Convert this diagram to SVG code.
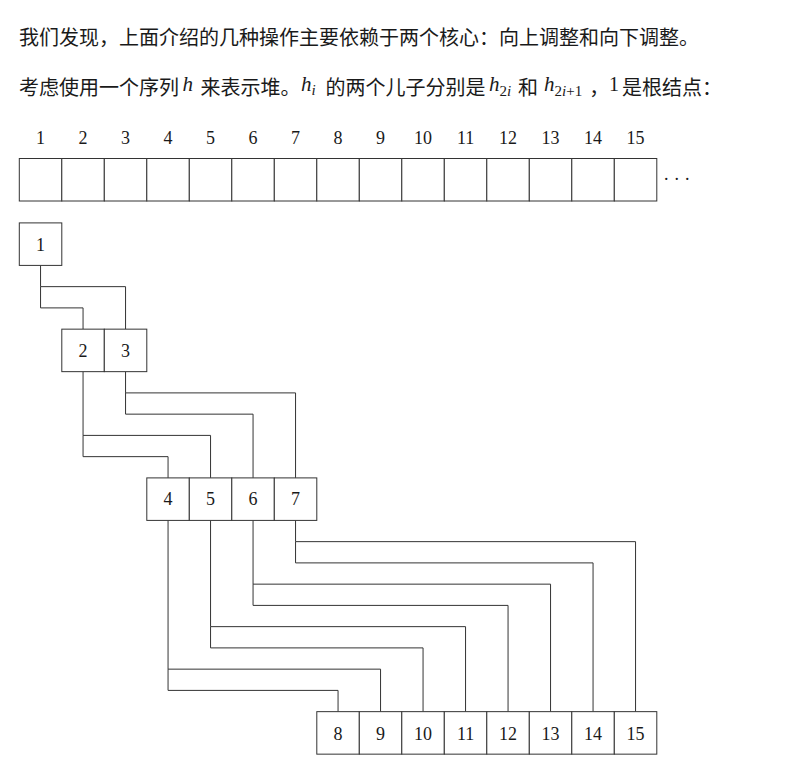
<svg xmlns="http://www.w3.org/2000/svg" width="796" height="779" viewBox="0 0 796 779">
<style>
.cjk{font-family:"Noto Sans CJK SC","Noto Sans",sans-serif;font-size:20px;fill:#1a1a1a}
.m{font-family:"Liberation Serif","DejaVu Serif",serif;font-style:italic;font-size:21px;fill:#1a1a1a}
.mn{font-family:"Liberation Serif","DejaVu Serif",serif;font-size:20px;fill:#1a1a1a}
.sub{font-size:15px}
.num{font-family:"Liberation Serif","DejaVu Serif",serif;font-size:18px;fill:#1a1a1a;text-anchor:middle}
.cell{fill:#fff;stroke:#333;stroke-width:1}
.wire{fill:none;stroke:#333;stroke-width:1}
</style>
<rect width="796" height="779" fill="#fff"/>
<g id="text">
<text class="cjk" x="19" y="44.5">我们发现，上面介绍的几种操作主要依赖于两个核心：向上调整和向下调整。</text>
<text class="cjk" x="19" y="94.5">考虑使用一个序列</text>
<text class="m" x="182.5" y="91">h</text>
<text class="cjk" x="200.5" y="94.5">来表示堆。</text>
<text class="m" x="301" y="91">h<tspan class="sub" dy="4">i</tspan></text>
<text class="cjk" x="325.5" y="94.5">的两个儿子分别是</text>
<text class="m" x="489" y="91">h<tspan class="sub" dy="4.5" font-style="normal">2</tspan><tspan class="sub">i</tspan></text>
<text class="cjk" x="518" y="94.5">和</text>
<text class="m" x="544" y="91">h<tspan class="sub" dy="4.5" font-style="normal">2</tspan><tspan class="sub">i</tspan><tspan class="sub" font-style="normal">+1</tspan></text>
<text class="cjk" x="589.3" y="94.5">，</text>
<text class="mn" x="609" y="91">1</text>
<text class="cjk" x="622" y="94.5">是根结点：</text>
</g>
<g id="array">
<g id="a1"><rect class="cell" x="19.3" y="158.5" width="42.5" height="42.5"/><text class="num" x="40.55" y="144">1</text></g>
<g id="a2"><rect class="cell" x="61.8" y="158.5" width="42.5" height="42.5"/><text class="num" x="83.05" y="144">2</text></g>
<g id="a3"><rect class="cell" x="104.3" y="158.5" width="42.5" height="42.5"/><text class="num" x="125.55" y="144">3</text></g>
<g id="a4"><rect class="cell" x="146.8" y="158.5" width="42.5" height="42.5"/><text class="num" x="168.05" y="144">4</text></g>
<g id="a5"><rect class="cell" x="189.3" y="158.5" width="42.5" height="42.5"/><text class="num" x="210.55" y="144">5</text></g>
<g id="a6"><rect class="cell" x="231.8" y="158.5" width="42.5" height="42.5"/><text class="num" x="253.05" y="144">6</text></g>
<g id="a7"><rect class="cell" x="274.3" y="158.5" width="42.5" height="42.5"/><text class="num" x="295.55" y="144">7</text></g>
<g id="a8"><rect class="cell" x="316.8" y="158.5" width="42.5" height="42.5"/><text class="num" x="338.05" y="144">8</text></g>
<g id="a9"><rect class="cell" x="359.3" y="158.5" width="42.5" height="42.5"/><text class="num" x="380.55" y="144">9</text></g>
<g id="a10"><rect class="cell" x="401.8" y="158.5" width="42.5" height="42.5"/><text class="num" x="423.05" y="144">10</text></g>
<g id="a11"><rect class="cell" x="444.3" y="158.5" width="42.5" height="42.5"/><text class="num" x="465.55" y="144">11</text></g>
<g id="a12"><rect class="cell" x="486.8" y="158.5" width="42.5" height="42.5"/><text class="num" x="508.05" y="144">12</text></g>
<g id="a13"><rect class="cell" x="529.3" y="158.5" width="42.5" height="42.5"/><text class="num" x="550.55" y="144">13</text></g>
<g id="a14"><rect class="cell" x="571.8" y="158.5" width="42.5" height="42.5"/><text class="num" x="593.05" y="144">14</text></g>
<g id="a15"><rect class="cell" x="614.3" y="158.5" width="42.5" height="42.5"/><text class="num" x="635.55" y="144">15</text></g>
<text class="num" x="679" y="185" letter-spacing="4.5">···</text>
</g>
<g id="connectors">
<path class="wire" d="M40.55 265.4V286.65H125.55V329.15"/>
<path class="wire" d="M40.55 286.65V307.9H83.05V329.15"/>
<path class="wire" d="M125.55 371.65V392.9H295.55V477.9"/>
<path class="wire" d="M125.55 392.9V414.15H253.05V477.9"/>
<path class="wire" d="M83.05 371.65V435.4H210.55V477.9"/>
<path class="wire" d="M83.05 435.4V456.65H168.05V477.9"/>
<path class="wire" d="M295.55 520.4V541.65H635.55V711.65"/>
<path class="wire" d="M295.55 541.65V562.9H593.05V711.65"/>
<path class="wire" d="M253.05 520.4V584.15H550.55V711.65"/>
<path class="wire" d="M253.05 584.15V605.4H508.05V711.65"/>
<path class="wire" d="M210.55 520.4V626.65H465.55V711.65"/>
<path class="wire" d="M210.55 626.65V647.9H423.05V711.65"/>
<path class="wire" d="M168.05 520.4V669.15H380.55V711.65"/>
<path class="wire" d="M168.05 669.15V690.4H338.05V711.65"/>
</g>
<g id="n1"><rect class="cell" x="19.3" y="222.9" width="42.5" height="42.5"/><text class="num" x="40.55" y="250.5">1</text></g>
<g id="n2"><rect class="cell" x="61.8" y="329.15" width="42.5" height="42.5"/><text class="num" x="83.05" y="356.6">2</text></g>
<g id="n3"><rect class="cell" x="104.3" y="329.15" width="42.5" height="42.5"/><text class="num" x="125.55" y="356.6">3</text></g>
<g id="n4"><rect class="cell" x="146.8" y="477.9" width="42.5" height="42.5"/><text class="num" x="168.05" y="505.3">4</text></g>
<g id="n5"><rect class="cell" x="189.3" y="477.9" width="42.5" height="42.5"/><text class="num" x="210.55" y="505.3">5</text></g>
<g id="n6"><rect class="cell" x="231.8" y="477.9" width="42.5" height="42.5"/><text class="num" x="253.05" y="505.3">6</text></g>
<g id="n7"><rect class="cell" x="274.3" y="477.9" width="42.5" height="42.5"/><text class="num" x="295.55" y="505.3">7</text></g>
<g id="n8"><rect class="cell" x="316.8" y="711.65" width="42.5" height="42.5"/><text class="num" x="338.05" y="739.5">8</text></g>
<g id="n9"><rect class="cell" x="359.3" y="711.65" width="42.5" height="42.5"/><text class="num" x="380.55" y="739.5">9</text></g>
<g id="n10"><rect class="cell" x="401.8" y="711.65" width="42.5" height="42.5"/><text class="num" x="423.05" y="739.5">10</text></g>
<g id="n11"><rect class="cell" x="444.3" y="711.65" width="42.5" height="42.5"/><text class="num" x="465.55" y="739.5">11</text></g>
<g id="n12"><rect class="cell" x="486.8" y="711.65" width="42.5" height="42.5"/><text class="num" x="508.05" y="739.5">12</text></g>
<g id="n13"><rect class="cell" x="529.3" y="711.65" width="42.5" height="42.5"/><text class="num" x="550.55" y="739.5">13</text></g>
<g id="n14"><rect class="cell" x="571.8" y="711.65" width="42.5" height="42.5"/><text class="num" x="593.05" y="739.5">14</text></g>
<g id="n15"><rect class="cell" x="614.3" y="711.65" width="42.5" height="42.5"/><text class="num" x="635.55" y="739.5">15</text></g>
</svg>
